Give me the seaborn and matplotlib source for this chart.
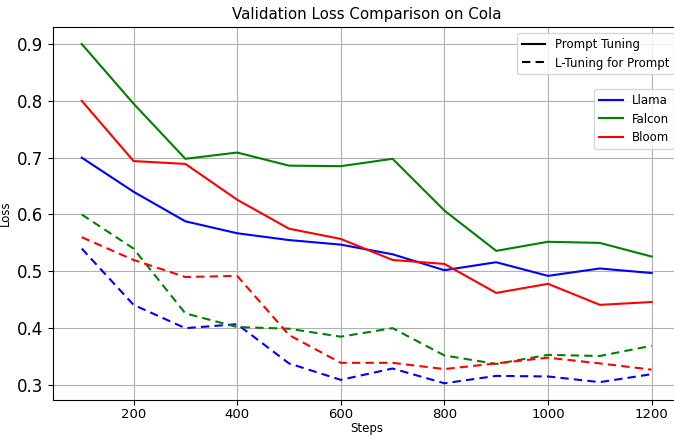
import matplotlib
matplotlib.use("Agg")
import matplotlib.pyplot as plt
import seaborn as sns
import pandas as pd
from matplotlib.lines import Line2D

steps = [100, 200, 300, 400, 500, 600, 700, 800, 900, 1000, 1100, 1200]
models = ["Llama", "Falcon", "Bloom"]
methods = ["Prompt Tuning", "L-Tuning for Prompt"]

llama_pt = [0.700, 0.640, 0.588, 0.567, 0.555, 0.547, 0.530, 0.502, 0.516, 0.492, 0.505, 0.497]
falcon_pt = [0.900, 0.795, 0.698, 0.709, 0.686, 0.685, 0.698, 0.607, 0.536, 0.552, 0.550, 0.526]
bloom_pt = [0.800, 0.694, 0.689, 0.626, 0.575, 0.557, 0.520, 0.513, 0.462, 0.478, 0.441, 0.446]
llama_lt = [0.540, 0.441, 0.400, 0.407, 0.338, 0.309, 0.329, 0.303, 0.316, 0.315, 0.305, 0.319]
falcon_lt = [0.600, 0.540, 0.426, 0.402, 0.399, 0.385, 0.400, 0.352, 0.337, 0.353, 0.351, 0.369]
bloom_lt = [0.560, 0.520, 0.490, 0.492, 0.388, 0.339, 0.339, 0.328, 0.338, 0.348, 0.338, 0.327]

series = {
    ("Llama", "Prompt Tuning"): llama_pt,
    ("Falcon", "Prompt Tuning"): falcon_pt,
    ("Bloom", "Prompt Tuning"): bloom_pt,
    ("Llama", "L-Tuning for Prompt"): llama_lt,
    ("Falcon", "L-Tuning for Prompt"): falcon_lt,
    ("Bloom", "L-Tuning for Prompt"): bloom_lt,
}
rows = []
for (m, meth), vals in series.items():
    for s, v in zip(steps, vals):
        rows.append({"Steps": s, "Loss": v, "Model": m, "Method": meth})
df = pd.DataFrame(rows)

palette = {"Llama": "blue", "Falcon": "green", "Bloom": "red"}
dashes = {"Prompt Tuning": "", "L-Tuning for Prompt": (4, 2.5)}

fig, ax = plt.subplots(figsize=(6.74, 4.36), dpi=100)
fig.subplots_adjust(left=0.079, right=1.009, top=0.938, bottom=0.082)

sns.lineplot(data=df, x="Steps", y="Loss", hue="Model", style="Method",
             palette=palette, dashes=dashes, hue_order=models, style_order=methods,
             linewidth=1.5, legend=False, ax=ax)

ax.grid(True, color="#b0b0b0", linewidth=0.8)
ax.set_title("Validation Loss Comparison on Cola", fontsize=10.8)
ax.set_xlabel("Steps", fontsize=8.5, labelpad=1)
ax.set_ylabel("Loss", fontsize=8.5)
ax.tick_params(axis="y", labelsize=12)
ax.tick_params(axis="x", labelsize=9.5, pad=2)
ax.set_xticks([200, 400, 600, 800, 1000, 1200])

h_style = [Line2D([0], [0], color="black", linestyle="-", linewidth=1.5),
           Line2D([0], [0], color="black", linestyle=(0, (4, 2.5)), linewidth=1.5)]
leg1 = ax.legend(h_style, methods, loc="upper right", bbox_to_anchor=(1.0, 1.0), fontsize=8.5)
ax.add_artist(leg1)
h_col = [Line2D([0], [0], color=palette[m], linewidth=1.5) for m in models]
ax.legend(h_col, models, loc="upper right", bbox_to_anchor=(1.0, 0.85), fontsize=8.5)

fig.savefig("out.png", dpi=100)
